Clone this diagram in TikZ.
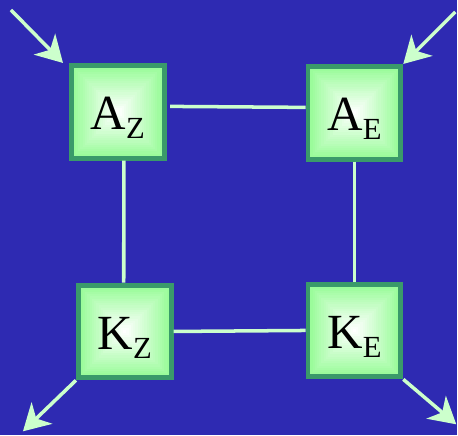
\documentclass[tikz,border=0pt]{standalone}
\usepackage{fontspec}
\setmainfont{Liberation Serif}
\usetikzlibrary{arrows.meta}
\definecolor{bgblue}{RGB}{46,42,178}
\definecolor{edgegreen}{RGB}{58,154,106}
\definecolor{boxgreen}{RGB}{150,252,150}
\definecolor{palegreen}{RGB}{204,255,204}
\newcommand{\unitlbl}[2]{#1\raisebox{-5.1pt}{\fontsize{17.5}{17.5}\selectfont #2}}

\begin{document}
\begin{tikzpicture}[
  x=0.02cm, y=-0.02cm,
  unit/.style={draw=edgegreen, line width=2.8pt, minimum size=1.86cm, inner sep=0pt,
               font=\fontsize{28}{30}\selectfont, text height=20.4pt, text depth=0pt,
               path picture={
                 \foreach \k in {0,...,20}{
                   \pgfmathsetmacro\mix{5*\k}
                   \fill[white!\mix!boxgreen]
                     ([shift={(\k*0.045cm,\k*0.045cm)}]path picture bounding box.south west)
                     rectangle ([shift={(-\k*0.045cm,-\k*0.045cm)}]path picture bounding box.north east);
                 }
               }},
  link/.style={palegreen, line width=2pt},
  arr/.style={-{Stealth[length=15pt, width=17pt, inset=4.5pt]}, palegreen, line width=2pt}
]
% background
\fill[bgblue] (0,0) rectangle (458,436);

% Boxes
\node[unit] (az) at (118,112) {\unitlbl{A}{Z}};
\node[unit] (ae) at (355,113) {\unitlbl{A}{E}};
\node[unit] (kz) at (125,332) {\unitlbl{K}{Z}};
\node[unit] (ke) at (355,331) {\unitlbl{K}{E}};

% Links
\draw[link, shorten <=2pt] ([yshift=3.1pt]az.east) -- ([yshift=3.1pt]ae.west);
\draw[link] ([xshift=3.4pt]az.south) -- ([xshift=-0.6pt]kz.north);
\draw[link] (ae.south) -- (ke.north);
\draw[link] (kz.east) -- (ke.west);

% In and out
\coordinate (inA) at (11,10);
\coordinate (inB) at (456,12);
\coordinate (outK) at (23,432);
\coordinate (outE) at (457,425);
\draw[arr] (inA) -- ([xshift=-3.4pt]az.north west);
\draw[arr] (inB) -- (ae.north east);
\draw[arr] (kz.south west) -- (outK);
\draw[arr] (ke.south east) -- (outE);
\end{tikzpicture}
\end{document}
